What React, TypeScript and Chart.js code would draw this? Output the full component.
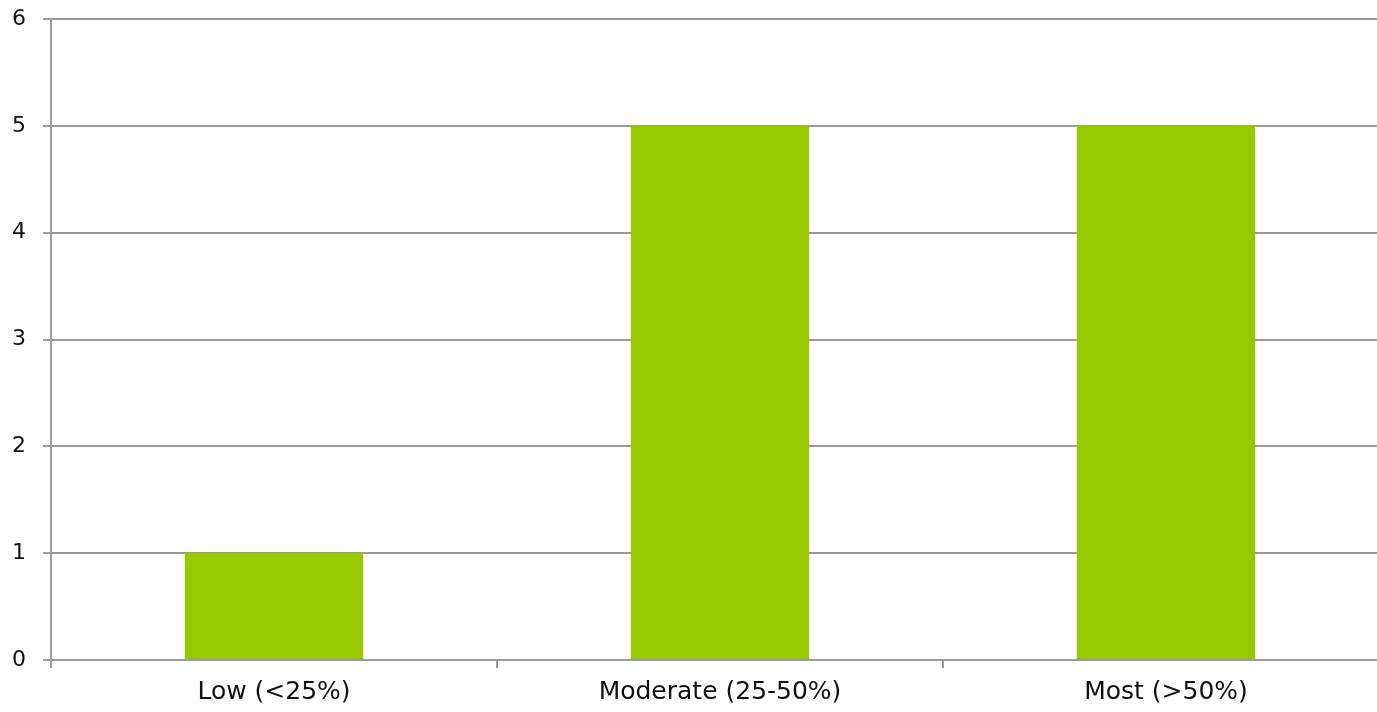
import React, { useEffect, useRef } from "react";
import { Chart, registerables } from "chart.js";

Chart.register(...registerables);

const categories: string[] = ["Low (<25%)", "Moderate (25-50%)", "Most (>50%)"];
const counts: number[] = [1, 5, 5];
const yTicks: number[] = [0, 1, 2, 3, 4, 5, 6];

const FONT = "'DejaVu Sans', sans-serif";
const GRID = "#9a9a9a";
const BAR = "#97c800";
const TEXT = "#111";

export default function App() {
  const ref = useRef<HTMLCanvasElement | null>(null);

  useEffect(() => {
    const canvas = ref.current;
    if (!canvas) return;
    const chart = new Chart(canvas, {
      type: "bar",
      data: {
        labels: categories,
        datasets: [
          {
            data: counts,
            backgroundColor: BAR,
            borderWidth: 0,
            categoryPercentage: 0.4,
            barPercentage: 1,
          },
        ],
      },
      options: {
        animation: false,
        responsive: false,
        maintainAspectRatio: false,
        layout: { padding: { top: 19, right: 11, left: 0, bottom: 0 } },
        plugins: { legend: { display: false }, tooltip: { enabled: false } },
        scales: {
          x: {
            afterFit: (s: any) => {
              s.height = 52;
              s.paddingLeft = 0;
              s.paddingRight = 0;
            },
            grid: {
              display: true,
              drawOnChartArea: false,
              drawTicks: true,
              tickLength: 8,
              color: GRID,
              lineWidth: 2,
              offset: true,
            },
            border: { display: true, color: GRID, width: 2 },
            ticks: {
              color: TEXT,
              font: { family: FONT, size: 25 },
              padding: 9,
              maxRotation: 0,
            },
          },
          y: {
            min: 0,
            max: 6,
            afterFit: (s: any) => {
              s.width = 51;
              s.paddingTop = 0;
              s.paddingBottom = 0;
            },
            afterBuildTicks: (s: any) => {
              s.ticks = yTicks.map((v) => ({ value: v }));
            },
            grid: {
              color: GRID,
              lineWidth: 2,
              drawTicks: true,
              tickLength: 8,
            },
            border: { display: true, color: GRID, width: 2 },
            ticks: {
              color: TEXT,
              font: { family: FONT, size: 22 },
              padding: 17,
            },
          },
        },
      },
    });
    return () => chart.destroy();
  }, []);

  return (
    <div
      style={{
        position: "fixed",
        left: 0,
        top: 0,
        width: 1377,
        height: 712,
        overflow: "hidden",
        background: "#fff",
      }}
    >
      <canvas ref={ref} width={1400} height={712} style={{ display: "block" }} />
    </div>
  );
}
